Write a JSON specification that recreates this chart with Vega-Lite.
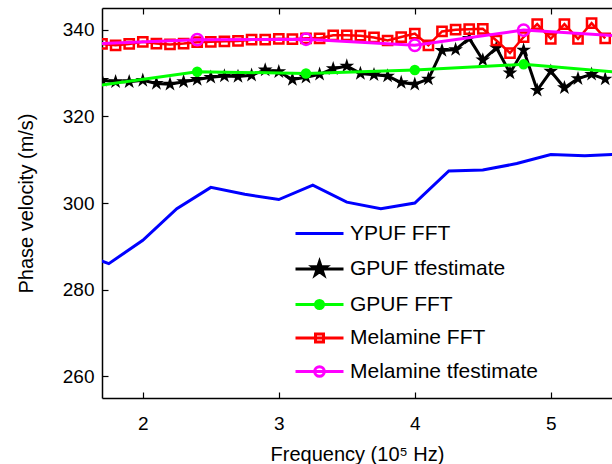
{
  "$schema": "https://vega.github.io/schema/vega-lite/v6.json",
  "width": 510,
  "height": 390,
  "autosize": "none",
  "padding": {"left": 102, "top": 8, "right": 0, "bottom": 66},
  "background": "white",
  "config": {
    "view": {"stroke": null},
    "axis": {"domainColor": "black", "domainWidth": 1.5, "tickColor": "black", "tickWidth": 1.2, "labelColor": "black", "titleColor": "black", "labelFont": "Liberation Sans", "titleFont": "Liberation Sans", "labelFontSize": 19, "titleFontSize": 20, "titleFontWeight": "normal", "grid": false}
  },
  "datasets": {
    "d": [
      {"s": "YPUF FFT", "x": 1.5, "y": 289.0},
      {"s": "YPUF FFT", "x": 1.75, "y": 286.0},
      {"s": "YPUF FFT", "x": 2.0, "y": 291.4},
      {"s": "YPUF FFT", "x": 2.25, "y": 298.7},
      {"s": "YPUF FFT", "x": 2.5, "y": 303.6},
      {"s": "YPUF FFT", "x": 2.75, "y": 302.0},
      {"s": "YPUF FFT", "x": 3.0, "y": 300.8},
      {"s": "YPUF FFT", "x": 3.25, "y": 304.1},
      {"s": "YPUF FFT", "x": 3.5, "y": 300.2},
      {"s": "YPUF FFT", "x": 3.75, "y": 298.7},
      {"s": "YPUF FFT", "x": 4.0, "y": 300.0},
      {"s": "YPUF FFT", "x": 4.25, "y": 307.4},
      {"s": "YPUF FFT", "x": 4.5, "y": 307.6},
      {"s": "YPUF FFT", "x": 4.75, "y": 309.1},
      {"s": "YPUF FFT", "x": 5.0, "y": 311.2},
      {"s": "YPUF FFT", "x": 5.25, "y": 310.9},
      {"s": "YPUF FFT", "x": 5.5, "y": 311.3},

      {"s": "GPUF tfestimate", "x": 1.7, "y": 328.3},
      {"s": "GPUF tfestimate", "x": 1.8, "y": 328.0},
      {"s": "GPUF tfestimate", "x": 1.9, "y": 328.0},
      {"s": "GPUF tfestimate", "x": 2.0, "y": 328.3},
      {"s": "GPUF tfestimate", "x": 2.1, "y": 327.6},
      {"s": "GPUF tfestimate", "x": 2.2, "y": 327.4},
      {"s": "GPUF tfestimate", "x": 2.3, "y": 328.0},
      {"s": "GPUF tfestimate", "x": 2.4, "y": 328.5},
      {"s": "GPUF tfestimate", "x": 2.5, "y": 329.0},
      {"s": "GPUF tfestimate", "x": 2.6, "y": 329.3},
      {"s": "GPUF tfestimate", "x": 2.7, "y": 329.2},
      {"s": "GPUF tfestimate", "x": 2.8, "y": 329.5},
      {"s": "GPUF tfestimate", "x": 2.9, "y": 330.7},
      {"s": "GPUF tfestimate", "x": 3.0, "y": 330.3},
      {"s": "GPUF tfestimate", "x": 3.1, "y": 328.5},
      {"s": "GPUF tfestimate", "x": 3.2, "y": 329.0},
      {"s": "GPUF tfestimate", "x": 3.3, "y": 329.7},
      {"s": "GPUF tfestimate", "x": 3.4, "y": 331.0},
      {"s": "GPUF tfestimate", "x": 3.5, "y": 331.6},
      {"s": "GPUF tfestimate", "x": 3.6, "y": 329.9},
      {"s": "GPUF tfestimate", "x": 3.7, "y": 329.6},
      {"s": "GPUF tfestimate", "x": 3.8, "y": 329.3},
      {"s": "GPUF tfestimate", "x": 3.9, "y": 327.8},
      {"s": "GPUF tfestimate", "x": 4.0, "y": 327.4},
      {"s": "GPUF tfestimate", "x": 4.1, "y": 328.6},
      {"s": "GPUF tfestimate", "x": 4.2, "y": 335.2},
      {"s": "GPUF tfestimate", "x": 4.3, "y": 335.4},
      {"s": "GPUF tfestimate", "x": 4.4, "y": 338.0},
      {"s": "GPUF tfestimate", "x": 4.5, "y": 333.0},
      {"s": "GPUF tfestimate", "x": 4.6, "y": 335.8},
      {"s": "GPUF tfestimate", "x": 4.7, "y": 330.0},
      {"s": "GPUF tfestimate", "x": 4.8, "y": 335.3},
      {"s": "GPUF tfestimate", "x": 4.9, "y": 326.0},
      {"s": "GPUF tfestimate", "x": 5.0, "y": 330.4},
      {"s": "GPUF tfestimate", "x": 5.1, "y": 326.6},
      {"s": "GPUF tfestimate", "x": 5.2, "y": 328.7},
      {"s": "GPUF tfestimate", "x": 5.3, "y": 329.7},
      {"s": "GPUF tfestimate", "x": 5.4, "y": 328.6},

      {"s": "GPUF FFT", "x": 1.6, "y": 326.8},
      {"s": "GPUF FFT", "x": 2.4, "y": 330.3},
      {"s": "GPUF FFT", "x": 3.2, "y": 329.9},
      {"s": "GPUF FFT", "x": 4.0, "y": 330.7},
      {"s": "GPUF FFT", "x": 4.8, "y": 332.0},
      {"s": "GPUF FFT", "x": 5.6, "y": 329.9},

      {"s": "Melamine FFT", "x": 1.7, "y": 336.7},
      {"s": "Melamine FFT", "x": 1.8, "y": 336.4},
      {"s": "Melamine FFT", "x": 1.9, "y": 336.7},
      {"s": "Melamine FFT", "x": 2.0, "y": 337.2},
      {"s": "Melamine FFT", "x": 2.1, "y": 336.8},
      {"s": "Melamine FFT", "x": 2.2, "y": 336.6},
      {"s": "Melamine FFT", "x": 2.3, "y": 336.8},
      {"s": "Melamine FFT", "x": 2.4, "y": 337.1},
      {"s": "Melamine FFT", "x": 2.5, "y": 337.2},
      {"s": "Melamine FFT", "x": 2.6, "y": 337.3},
      {"s": "Melamine FFT", "x": 2.7, "y": 337.4},
      {"s": "Melamine FFT", "x": 2.8, "y": 337.7},
      {"s": "Melamine FFT", "x": 2.9, "y": 337.7},
      {"s": "Melamine FFT", "x": 3.0, "y": 337.9},
      {"s": "Melamine FFT", "x": 3.1, "y": 337.8},
      {"s": "Melamine FFT", "x": 3.2, "y": 338.0},
      {"s": "Melamine FFT", "x": 3.3, "y": 338.0},
      {"s": "Melamine FFT", "x": 3.4, "y": 338.7},
      {"s": "Melamine FFT", "x": 3.5, "y": 338.7},
      {"s": "Melamine FFT", "x": 3.6, "y": 338.6},
      {"s": "Melamine FFT", "x": 3.7, "y": 338.2},
      {"s": "Melamine FFT", "x": 3.8, "y": 337.5},
      {"s": "Melamine FFT", "x": 3.9, "y": 338.3},
      {"s": "Melamine FFT", "x": 4.0, "y": 339.1},
      {"s": "Melamine FFT", "x": 4.1, "y": 336.4},
      {"s": "Melamine FFT", "x": 4.2, "y": 339.6},
      {"s": "Melamine FFT", "x": 4.3, "y": 340.0},
      {"s": "Melamine FFT", "x": 4.4, "y": 340.1},
      {"s": "Melamine FFT", "x": 4.5, "y": 340.2},
      {"s": "Melamine FFT", "x": 4.6, "y": 337.5},
      {"s": "Melamine FFT", "x": 4.7, "y": 334.6},
      {"s": "Melamine FFT", "x": 4.8, "y": 338.3},
      {"s": "Melamine FFT", "x": 4.9, "y": 341.3},
      {"s": "Melamine FFT", "x": 5.0, "y": 337.9},
      {"s": "Melamine FFT", "x": 5.1, "y": 341.3},
      {"s": "Melamine FFT", "x": 5.2, "y": 337.9},
      {"s": "Melamine FFT", "x": 5.3, "y": 341.5},
      {"s": "Melamine FFT", "x": 5.4, "y": 338.0},

      {"s": "Melamine tfestimate", "x": 1.6, "y": 336.7},
      {"s": "Melamine tfestimate", "x": 2.4, "y": 337.7},
      {"s": "Melamine tfestimate", "x": 3.2, "y": 337.8},
      {"s": "Melamine tfestimate", "x": 4.0, "y": 336.4},
      {"s": "Melamine tfestimate", "x": 4.8, "y": 339.9},
      {"s": "Melamine tfestimate", "x": 5.6, "y": 338.4}
    ]
  },
  "data": {"name": "d"},
  "encoding": {
    "x": {"field": "x", "type": "quantitative", "scale": {"domain": [1.7, 5.45], "nice": false, "zero": false}, "axis": null},
    "y": {"field": "y", "type": "quantitative", "scale": {"domain": [255, 345], "nice": false, "zero": false},
      "axis": {"values": [260, 280, 300, 320, 340], "tickSize": -6, "labelPadding": 14, "title": "Phase velocity (m/s)", "titlePadding": 26, "titleFontWeight": "normal", "titleFontSize": 20}},
    "color": {"field": "s", "type": "nominal",
      "scale": {"domain": ["YPUF FFT", "GPUF tfestimate", "GPUF FFT", "Melamine FFT", "Melamine tfestimate"], "range": ["#0000ff", "#000000", "#00ff00", "#ff0000", "#ff00ff"]},
      "legend": {"orient": "none", "legendX": 207, "legendY": 215, "title": null, "padding": 0,
        "labelFont": "Liberation Sans", "labelFontSize": 21, "labelColor": "black", "labelOffset": 20, "labelLimit": 400,
        "symbolSize": 256, "rowPadding": 11.5, "symbolStrokeWidth": 3,
        "encode": {"symbols": {"update": {
          "shape": {"signal": "datum.value === 'YPUF FFT' ? 'M-3,0H3' : datum.value === 'GPUF tfestimate' ? 'M-3,0H3M0,-0.9L0.202,-0.278L0.856,-0.278L0.327,0.106L0.529,0.728L0,0.344L-0.529,0.728L-0.327,0.106L-0.856,-0.278L-0.202,-0.278Z' : datum.value === 'GPUF FFT' ? 'M-3,0H3M0.5,0A0.5,0.5 0 1,1 -0.5,0A0.5,0.5 0 1,1 0.5,0Z' : datum.value === 'Melamine FFT' ? 'M-3,0H3M-0.5,-0.5H0.5V0.5H-0.5Z' : 'M-3,0H3M0.6,0A0.6,0.6 0 1,1 -0.6,0A0.6,0.6 0 1,1 0.6,0Z'"},
          "fill": {"signal": "datum.value === 'GPUF tfestimate' ? '#000000' : datum.value === 'GPUF FFT' ? '#00ff00' : 'transparent'"},
          "fillOpacity": {"signal": "(datum.value === 'GPUF tfestimate' || datum.value === 'GPUF FFT') ? 1 : 0"},
          "stroke": {"signal": "datum.value === 'YPUF FFT' ? '#0000ff' : datum.value === 'GPUF tfestimate' ? '#000000' : datum.value === 'GPUF FFT' ? '#00ff00' : datum.value === 'Melamine FFT' ? '#ff0000' : '#ff00ff'"},
          "strokeWidth": {"value": 3},
          "opacity": {"value": 1}
        }}}
      }}
  },
  "layer": [
    {"transform": [{"filter": "datum.s === 'YPUF FFT'"}],
     "mark": {"type": "line", "strokeWidth": 3, "clip": true},
     "encoding": {"x": {"field": "x", "type": "quantitative", "axis": {"orient": "top", "values": [2, 3, 4, 5], "tickSize": -6, "labels": false, "title": null}}}},
    {"transform": [{"filter": "datum.s === 'GPUF tfestimate'"}],
     "mark": {"type": "line", "strokeWidth": 3, "clip": true,
       "point": {"filled": true, "shape": "M0,-1L0.2245,-0.309L0.951,-0.309L0.363,0.118L0.588,0.809L0,0.382L-0.588,0.809L-0.363,0.118L-0.951,-0.309L-0.2245,-0.309Z", "size": 240, "opacity": 1}},
     "encoding": {"x": {"field": "x", "type": "quantitative", "axis": {"orient": "bottom", "values": [2, 3, 4, 5], "tickSize": -6, "labelPadding": 22, "title": "Frequency (10⁵ Hz)", "titlePadding": 11, "titleFontWeight": "normal", "titleFontSize": 20}}}},
    {"transform": [{"filter": "datum.s === 'GPUF FFT'"}],
     "mark": {"type": "line", "strokeWidth": 3, "clip": true,
       "point": {"filled": true, "shape": "circle", "size": 110, "opacity": 1}}},
    {"transform": [{"filter": "datum.s === 'Melamine FFT'"}],
     "mark": {"type": "line", "strokeWidth": 2.5, "clip": true,
       "point": {"filled": false, "shape": "square", "size": 85, "strokeWidth": 2.5, "opacity": 1}}},
    {"transform": [{"filter": "datum.s === 'Melamine tfestimate'"}],
     "mark": {"type": "line", "strokeWidth": 3, "clip": true,
       "point": {"filled": false, "shape": "circle", "size": 130, "strokeWidth": 2.5, "opacity": 1}}}
  ],
  "resolve": {"axis": {"x": "independent"}}
}
